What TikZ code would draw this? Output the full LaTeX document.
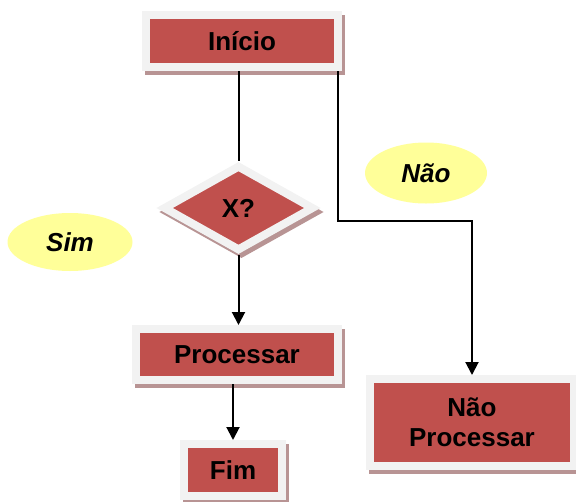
\documentclass[tikz,border=0pt]{standalone}
\usepackage{fontspec}
\setmainfont{Liberation Sans}
\usetikzlibrary{arrows.meta,shapes.geometric,shadows}

\definecolor{boxred}{RGB}{192,80,77}
\definecolor{framegray}{RGB}{242,242,242}
\definecolor{shadowred}{RGB}{184,148,148}
\definecolor{paleyellow}{RGB}{255,255,153}

\begin{document}
\begin{tikzpicture}[x=1pt, y=-1pt,
box/.style = {fill=boxred, draw=framegray, line width=8pt, inner sep=0pt,
    font=\fontsize{26}{30}\selectfont\bfseries, align=center,
    drop shadow={shadow xshift=3pt, shadow yshift=-4pt, opacity=1,
        fill=shadowred, draw=shadowred}},
decision/.style = {box, diamond, minimum width=151pt, minimum height=86pt},
balloon/.style = {ellipse, fill=paleyellow, inner sep=0pt,
    font=\fontsize{26}{30}\selectfont\bfseries\itshape},
flow/.style = {line width=2pt},
arrow/.style = {flow, -{Triangle[length=13pt, width=13pt]}}]

\useasboundingbox (0,0) rectangle (576,501);

\node[box, minimum width=192pt, minimum height=52pt] (inicio) at (242,41) {Início};
\node[decision] (teste) at (238.5,208) {X?};
\node[box, minimum width=202pt, minimum height=51pt] (proc) at (237,354.5) {Processar};
\node[box, minimum width=98pt, minimum height=52pt] (fim) at (233,470) {Fim};
\node[box, minimum width=204pt, minimum height=87pt] (naoproc) at (472,422.5) {Não\\Processar};
\node[balloon, minimum width=125pt, minimum height=58pt] (sim) at (70,242) {Sim};
\node[balloon, minimum width=122pt, minimum height=61pt] (nao) at (426,173) {Não};
\coordinate (desvio) at (338,221);

\draw[flow] (inicio.south -| teste.north) -- (teste.north);
\draw[arrow] (teste.south) -- (teste.south |- proc.north);
\draw[arrow] (proc.south -| fim.north) -- (fim.north);
\draw[arrow] (inicio.south -| desvio) -- (desvio) -| (naoproc.north);
\end{tikzpicture}
\end{document}
